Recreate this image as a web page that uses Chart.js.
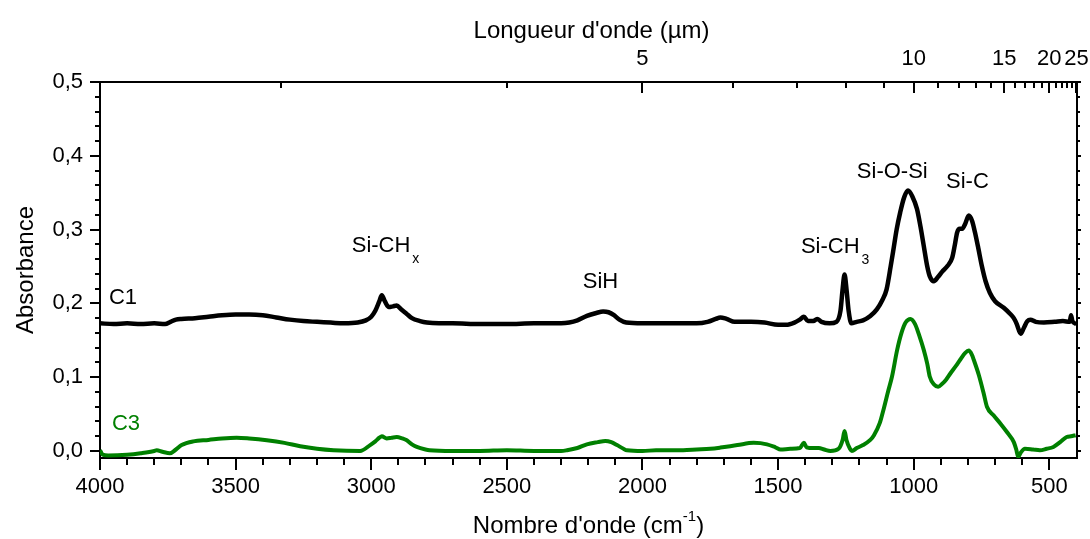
<!DOCTYPE html>
<html lang="fr">
<head>
<meta charset="utf-8">
<title>Absorbance C1 / C3</title>
<script src="https://cdn.jsdelivr.net/npm/chart.js@4/dist/chart.umd.min.js"></script>
<style>
  html, body { margin: 0; padding: 0; background: #fff; }
  canvas { display: block; }
</style>
</head>
<body>
<canvas id="chartIR" width="1090" height="539"></canvas>
<script>
// Spectres IR — absorbance de C1 et C3 en fonction du nombre d'onde

// C1 (noir)
const c1Wn = [4000, 3950, 3900, 3850, 3800, 3760, 3740, 3720, 3700, 3650, 3600, 3550, 3500, 3450, 3400, 3350, 3300, 3250, 3200, 3150, 3100, 3050, 3020, 3000, 2985, 2970, 2961, 2950, 2935, 2920, 2906, 2890, 2870, 2850, 2820, 2795, 2750, 2700, 2600, 2500, 2400, 2300, 2270, 2240, 2205, 2170, 2145, 2125, 2105, 2085, 2060, 2000, 1900, 1800, 1760, 1730, 1713, 1690, 1660, 1600, 1550, 1500, 1470, 1440, 1420, 1405, 1390, 1370, 1356, 1340, 1310, 1285, 1270, 1262, 1255, 1248, 1240, 1230, 1210, 1187, 1160, 1136, 1115, 1100, 1085, 1076, 1063, 1050, 1035, 1021, 1005, 988, 975, 963, 950, 941, 926, 910, 895, 875, 858, 848, 840, 830, 821, 810, 797, 785, 774, 762, 749, 735, 719, 700, 668, 645, 631, 620, 606, 595, 581, 570, 550, 520, 480, 450, 425, 420, 415, 400];
const c1Abs = [0.173, 0.172, 0.173, 0.172, 0.173, 0.172, 0.175, 0.178, 0.179, 0.180, 0.182, 0.184, 0.185, 0.185, 0.184, 0.181, 0.178, 0.176, 0.175, 0.174, 0.173, 0.174, 0.177, 0.182, 0.190, 0.203, 0.211, 0.203, 0.195, 0.196, 0.197, 0.192, 0.186, 0.180, 0.176, 0.174, 0.173, 0.173, 0.172, 0.172, 0.173, 0.173, 0.174, 0.177, 0.183, 0.187, 0.189, 0.188, 0.184, 0.178, 0.174, 0.173, 0.173, 0.173, 0.175, 0.179, 0.181, 0.179, 0.175, 0.175, 0.174, 0.171, 0.171, 0.174, 0.178, 0.182, 0.176, 0.176, 0.179, 0.175, 0.173, 0.175, 0.190, 0.220, 0.239, 0.220, 0.190, 0.173, 0.175, 0.177, 0.183, 0.192, 0.205, 0.219, 0.250, 0.270, 0.300, 0.323, 0.344, 0.353, 0.345, 0.328, 0.304, 0.278, 0.250, 0.237, 0.230, 0.236, 0.243, 0.251, 0.262, 0.280, 0.296, 0.301, 0.301, 0.308, 0.319, 0.312, 0.296, 0.275, 0.251, 0.230, 0.214, 0.203, 0.194, 0.186, 0.180, 0.172, 0.159, 0.166, 0.176, 0.178, 0.175, 0.174, 0.175, 0.176, 0.175, 0.184, 0.176, 0.172];

// C3 (vert)
const c3Wn = [4000, 3990, 3970, 3900, 3850, 3800, 3791, 3770, 3742, 3720, 3699, 3656, 3600, 3550, 3496, 3450, 3385, 3320, 3262, 3200, 3139, 3041, 3004, 2985, 2970, 2961, 2943, 2925, 2906, 2885, 2869, 2850, 2832, 2800, 2785, 2700, 2600, 2500, 2400, 2300, 2278, 2240, 2205, 2165, 2137, 2115, 2094, 2070, 2057, 2000, 1950, 1900, 1850, 1800, 1750, 1713, 1650, 1590, 1541, 1510, 1491, 1455, 1420, 1405, 1395, 1370, 1350, 1330, 1307, 1277, 1262, 1255, 1248, 1235, 1228, 1210, 1187, 1160, 1147, 1125, 1110, 1095, 1080, 1061, 1045, 1030, 1012, 995, 980, 963, 950, 941, 925, 910, 895, 880, 865, 845, 828, 810, 797, 785, 779, 760, 742, 730, 705, 680, 655, 631, 622, 615, 605, 590, 560, 535, 510, 485, 460, 436, 420, 403];
const c3Abs = [0.001, -0.005, -0.006, -0.005, -0.003, 0.000, 0.001, -0.001, -0.003, 0.002, 0.008, 0.013, 0.015, 0.017, 0.018, 0.017, 0.0146, 0.011, 0.0064, 0.003, 0.001, 0.000, 0.008, 0.013, 0.018, 0.020, 0.017, 0.018, 0.019, 0.017, 0.0146, 0.009, 0.0055, 0.002, 0.001, 0.000, 0.000, 0.001, 0.000, 0.000, 0.001, 0.004, 0.009, 0.012, 0.0136, 0.012, 0.008, 0.003, 0.001, 0.000, 0.001, 0.001, 0.001, 0.002, 0.003, 0.0046, 0.008, 0.011, 0.009, 0.005, 0.002, 0.003, 0.004, 0.011, 0.005, 0.004, 0.004, 0.002, 0.000, 0.003, 0.015, 0.027, 0.015, 0.003, 0.000, 0.004, 0.008, 0.015, 0.021, 0.038, 0.058, 0.080, 0.101, 0.137, 0.160, 0.174, 0.179, 0.172, 0.157, 0.137, 0.118, 0.101, 0.090, 0.087, 0.091, 0.097, 0.105, 0.115, 0.124, 0.133, 0.136, 0.130, 0.124, 0.103, 0.078, 0.060, 0.048, 0.037, 0.025, 0.012, 0.002, -0.008, -0.002, 0.003, 0.002, 0.001, 0.003, 0.0055, 0.012, 0.019, 0.020, 0.0214];

// Graduations
const wnTicks = [4000, 3500, 3000, 2500, 2000, 1500, 1000, 500];
const wnMinor = [3900, 3800, 3700, 3600, 3400, 3300, 3200, 3100, 2900, 2800, 2700, 2600, 2400, 2300, 2200, 2100, 1900, 1800, 1700, 1600, 1400, 1300, 1200, 1100, 900, 800, 700, 600];
const absTicks = [0, 0.1, 0.2, 0.3, 0.4, 0.5];
const absMinor = [0.02, 0.04, 0.06, 0.08, 0.12, 0.14, 0.16, 0.18, 0.22, 0.24, 0.26, 0.28, 0.32, 0.34, 0.36, 0.38, 0.42, 0.44, 0.46, 0.48];
const lambdaTicks = [5, 10, 15, 20, 25];
const lambdaMinor = [3, 4, 6, 7, 8, 9, 11, 12, 13, 14, 16, 17, 18, 19, 21, 22, 23, 24];

const FONT = "'Liberation Sans', Arial, sans-serif";
const GREEN = "#008000";

const WN_MIN = 398, WN_MAX = 4000;
const ABS_MIN = -0.0095, ABS_MAX = 0.5;

function toPoints(xs, ys) {
  return xs.map((x, i) => ({ x: x, y: ys[i] }));
}

function fmtAbs(v) {
  return v.toFixed(1).replace(".", ",");
}

// Étiquettes des bandes (ancrées en coordonnées données)
const bandLabels = [
  { text: "C1", wn: 3967, abs: 0.208, align: "left", color: "#000" },
  { text: "C3", wn: 3956, abs: 0.036, align: "left", color: GREEN },
  { text: "Si-CH", sub: "x", wn: 3072, abs: 0.278, align: "left", color: "#000" },
  { text: "SiH", wn: 2155, abs: 0.229, align: "center", color: "#000" },
  { text: "Si-CH", sub: "3", wn: 1416, abs: 0.276, align: "left", color: "#000" },
  { text: "Si-O-Si", wn: 1079, abs: 0.378, align: "center", color: "#000" },
  { text: "Si-C", wn: 802, abs: 0.3645, align: "center", color: "#000" },
];

// Graduations dessinées à la main (majeures/mineures, vers l'intérieur en haut)
const ticksPlugin = {
  id: "ticksPlugin",
  afterDraw(chart) {
    const ctx = chart.ctx;
    const { left, right, top, bottom } = chart.chartArea;
    const sx = chart.scales.x;
    const sy = chart.scales.y;
    ctx.save();
    ctx.strokeStyle = "#000";
    ctx.lineWidth = 2;
    ctx.beginPath();
    wnTicks.forEach((v) => {
      const p = Math.round(sx.getPixelForValue(v));
      ctx.moveTo(p, bottom); ctx.lineTo(p, bottom + 12);
    });
    wnMinor.forEach((v) => {
      const p = Math.round(sx.getPixelForValue(v));
      ctx.moveTo(p, bottom); ctx.lineTo(p, bottom + 7);
    });
    absTicks.forEach((v) => {
      const p = Math.round(sy.getPixelForValue(v));
      ctx.moveTo(left, p); ctx.lineTo(left - 10, p);
      ctx.moveTo(right, p); ctx.lineTo(right + 4, p);
    });
    absMinor.forEach((v) => {
      const p = Math.round(sy.getPixelForValue(v));
      ctx.moveTo(left, p); ctx.lineTo(left - 5, p);
      ctx.moveTo(right, p); ctx.lineTo(right + 3, p);
    });
    lambdaTicks.forEach((l) => {
      const p = Math.round(sx.getPixelForValue(10000 / l));
      ctx.moveTo(p, top); ctx.lineTo(p, top + 11);
    });
    lambdaMinor.forEach((l) => {
      const p = Math.round(sx.getPixelForValue(10000 / l));
      ctx.moveTo(p, top); ctx.lineTo(p, top + 6);
    });
    ctx.stroke();

    // Titres des axes
    ctx.fillStyle = "#000";
    ctx.textBaseline = "alphabetic";
    const mid = (left + right) / 2;

    const main = "Nombre d'onde (cm";
    ctx.font = "24px " + FONT;
    const wMain = ctx.measureText(main).width;
    ctx.font = "15px " + FONT;
    const wSup = ctx.measureText("-1").width;
    ctx.font = "24px " + FONT;
    const wEnd = ctx.measureText(")").width;
    const x0 = mid - (wMain + wSup + wEnd) / 2;
    ctx.textAlign = "left";
    ctx.fillText(main, x0, 533);
    ctx.font = "15px " + FONT;
    ctx.fillText("-1", x0 + wMain, 521);
    ctx.font = "24px " + FONT;
    ctx.fillText(")", x0 + wMain + wSup, 533);

    ctx.textAlign = "center";
    ctx.fillText("Longueur d'onde (\u00b5m)", mid + 3, 38);

    ctx.save();
    ctx.translate(33, (top + bottom) / 2);
    ctx.rotate(-Math.PI / 2);
    ctx.fillText("Absorbance", 0, 0);
    ctx.restore();

    // Étiquettes des bandes
    ctx.textBaseline = "middle";
    bandLabels.forEach((b) => {
      const px = sx.getPixelForValue(b.wn);
      const py = sy.getPixelForValue(b.abs);
      ctx.fillStyle = b.color;
      ctx.font = "22px " + FONT;
      ctx.textAlign = b.align;
      ctx.fillText(b.text, px, py);
      if (b.sub) {
        const w = ctx.measureText(b.text).width;
        ctx.font = "14px " + FONT;
        ctx.textAlign = "left";
        ctx.fillText(b.sub, px + w + 2, py + 13);
      }
    });
    ctx.restore();
  },
};

function noPad(scale) {
  scale.paddingLeft = 0;
  scale.paddingRight = 0;
  scale.paddingTop = 0;
  scale.paddingBottom = 0;
}

Chart.defaults.color = "#000";
Chart.defaults.font.family = FONT;

const ctx = document.getElementById("chartIR").getContext("2d");
const chart = new Chart(ctx, {
  type: "line",
  data: {
    datasets: [
      {
        label: "C1",
        data: toPoints(c1Wn, c1Abs),
        borderColor: "#000",
        borderWidth: 4.5,
        pointRadius: 0,
        cubicInterpolationMode: "monotone",
        xAxisID: "x",
        yAxisID: "y",
      },
      {
        label: "C3",
        data: toPoints(c3Wn, c3Abs),
        borderColor: GREEN,
        borderWidth: 4,
        pointRadius: 0,
        cubicInterpolationMode: "monotone",
        xAxisID: "x",
        yAxisID: "y",
      },
    ],
  },
  options: {
    responsive: false,
    animation: false,
    layout: { padding: { left: 0, right: 13, top: 0, bottom: 0 } },
    plugins: {
      legend: { display: false },
      tooltip: { enabled: false },
    },
    scales: {
      x: {
        type: "linear",
        position: "bottom",
        reverse: true,
        min: WN_MIN,
        max: WN_MAX,
        grid: { display: false, drawTicks: false },
        border: { display: true, color: "#000", width: 2 },
        afterBuildTicks: (s) => { s.ticks = wnTicks.map((v) => ({ value: v })); },
        afterFit: (s) => { s.height = 81; noPad(s); },
        ticks: {
          autoSkip: false,
          maxRotation: 0,
          padding: 16,
          font: { size: 22 },
          callback: (v) => String(v),
        },
      },
      x2: {
        type: "linear",
        position: "top",
        reverse: true,
        min: WN_MIN,
        max: WN_MAX,
        grid: { display: false, drawTicks: false },
        border: { display: true, color: "#000", width: 2 },
        afterBuildTicks: (s) => { s.ticks = lambdaTicks.map((l) => ({ value: 10000 / l })); },
        afterFit: (s) => { s.height = 82; noPad(s); },
        ticks: {
          autoSkip: false,
          maxRotation: 0,
          padding: 10,
          font: { size: 22 },
          callback: (v, i) => String(lambdaTicks[i]),
        },
      },
      y: {
        type: "linear",
        position: "left",
        min: ABS_MIN,
        max: ABS_MAX,
        grid: { display: false, drawTicks: false },
        border: { display: true, color: "#000", width: 2 },
        afterBuildTicks: (s) => { s.ticks = absTicks.map((v) => ({ value: v })); },
        afterFit: (s) => { s.width = 100; noPad(s); },
        ticks: {
          padding: 17,
          font: { size: 22 },
          callback: (v) => fmtAbs(v),
        },
      },
      y2: {
        type: "linear",
        position: "right",
        min: ABS_MIN,
        max: ABS_MAX,
        grid: { display: false, drawTicks: false },
        border: { display: true, color: "#000", width: 2 },
        ticks: { display: false },
        afterFit: (s) => { s.width = 0; noPad(s); },
      },
    },
  },
  plugins: [ticksPlugin],
});
</script>
</body>
</html>
